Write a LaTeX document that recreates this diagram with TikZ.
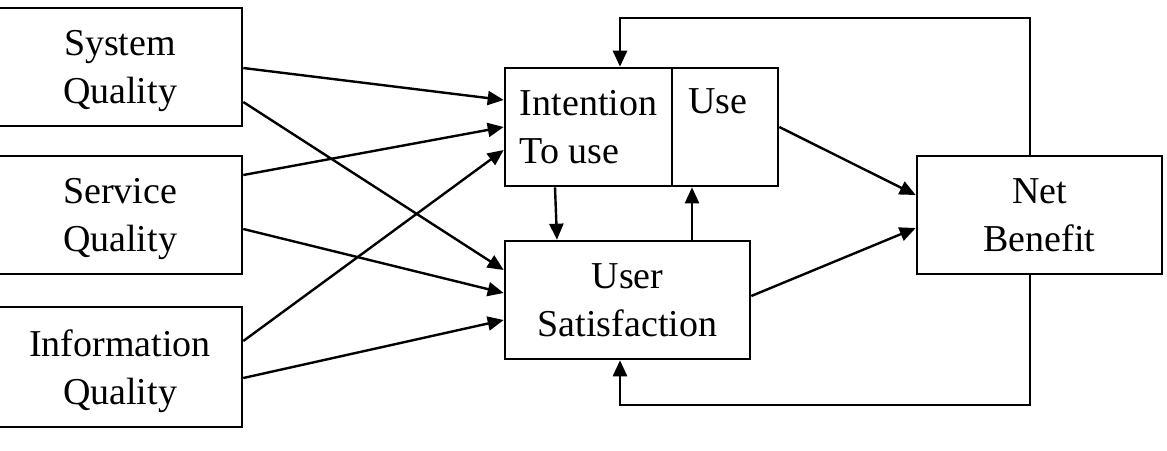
\documentclass[tikz,border=0pt]{standalone}
\usepackage{fontspec}
\setmainfont{Liberation Serif}
\usetikzlibrary{arrows.meta}
\begin{document}
\begin{tikzpicture}[x=1pt,y=-1pt,
  box/.style={draw, line width=2.6pt, rectangle, inner sep=0pt, align=center,
    text depth=0pt, font=\fontsize{38}{48}\selectfont},
  lbl/.style={inner sep=0pt, font=\fontsize{38}{48}\selectfont},
  conn/.style={line width=2.4pt, -{Triangle[length=16pt,width=14pt]}},
  fb/.style={line width=2.6pt, -{Triangle[length=16pt,width=14pt]}}]
\useasboundingbox (0,0) rectangle (1167,450);
% left boxes
\node[box, minimum width=244pt, minimum height=118pt] (sq)  at (120,67)  {System\\Quality};
\node[box, minimum width=244pt, minimum height=118pt] (svq) at (120,215) {Service\\Quality};
\node[box, minimum width=244pt, minimum height=120pt] (iq)  at (120,367) {Information\\Quality};
% intention / use
\node[box, minimum width=167pt, minimum height=118pt, align=left] (intent) at (588.5,127) {Intention\\To use};
\node[box, minimum width=106pt, minimum height=118pt] (use) at (725,127) {};
\node[lbl] (uselbl) at (718,101) {Use};
% user satisfaction
\node[box, minimum width=245pt, minimum height=118pt] (usat) at (627.5,300) {User\\Satisfaction};
% net benefit
\node[box, minimum width=245pt, minimum height=118pt] (nb) at (1039.5,215) {Net\\Benefit};
% connectors from quality boxes
\draw[conn] (sq.east |- 0,68)   -- (intent.west |- 0,100);
\draw[conn] (sq.east |- 0,102)  -- (usat.west |- 0,270);
\draw[conn] (svq.east |- 0,175) -- (intent.west |- 0,127);
\draw[conn] (svq.east |- 0,229) -- (usat.west |- 0,293);
\draw[conn] (iq.east |- 0,341)  -- (intent.west |- 0,150);
\draw[conn] (iq.east |- 0,378)  -- (usat.west |- 0,320);
% middle
\draw[conn] (intent.south -| 555,0) -- (usat.north -| 557,0);
\draw[conn] (usat.north -| 692,0) -- (use.south -| 692,0);
\draw[conn] (use.east |- 0,127) -- (nb.west |- 0,195);
\draw[conn] (usat.east |- 0,296) -- (nb.west |- 0,228);
% feedback loops
\coordinate (tr) at (1030,18);
\coordinate (tl) at (620,18);
\coordinate (br) at (1030,405);
\coordinate (bl) at (620,405);
\draw[fb] (nb.north -| tr) -- (tr) -- (tl) -- (intent.north -| tl);
\draw[fb] (nb.south -| br) -- (br) -- (bl) -- (usat.south -| bl);
\end{tikzpicture}
\end{document}
